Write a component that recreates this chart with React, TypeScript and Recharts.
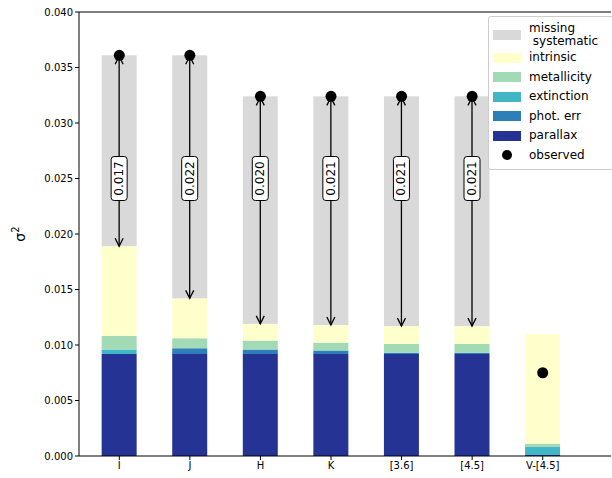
import React from 'react';
import { ComposedChart, Bar, Scatter, XAxis, YAxis, ReferenceLine } from 'recharts';

const categories = ['I', 'J', 'H', 'K', '[3.6]', '[4.5]', 'V-[4.5]'];
// cumulative tops
const parallaxTop = [0.0092, 0.0092, 0.0092, 0.0092, 0.0092, 0.0092, 0.0001];
const photErrTop = [0.0092, 0.0097, 0.0096, 0.0095, 0.0093, 0.0093, 0.0001];
const extinctionTop = [0.0096, 0.0097, 0.0096, 0.0095, 0.0093, 0.0093, 0.0008];
const metallicityTop = [0.0108, 0.0106, 0.0104, 0.0102, 0.0101, 0.0101, 0.0011];
const intrinsicTop = [0.0189, 0.0142, 0.0119, 0.0118, 0.0117, 0.0117, 0.011];
const observed = [0.0361, 0.0361, 0.0324, 0.0324, 0.0324, 0.0324, 0.0075];
const gapLabels = ['0.017', '0.022', '0.020', '0.021', '0.021', '0.021', ''];
const yTicks = [0, 0.005, 0.01, 0.015, 0.02, 0.025, 0.03, 0.035, 0.04];

const COLORS = {
  systematic: '#d9d9d9',
  intrinsic: '#ffffcc',
  metallicity: '#a1dab4',
  extinction: '#41b6c4',
  photErr: '#2c7fb8',
  parallax: '#253494',
};

const data = categories.map((name, i) => ({
  name,
  parallax: parallaxTop[i],
  photErr: photErrTop[i] - parallaxTop[i],
  extinction: extinctionTop[i] - photErrTop[i],
  metallicity: metallicityTop[i] - extinctionTop[i],
  intrinsic: intrinsicTop[i] - metallicityTop[i],
  systematic: Math.max(observed[i] - intrinsicTop[i], 0),
  observed: observed[i],
  label: gapLabels[i],
  bottom: intrinsicTop[i],
}));

const SystematicShape = (props: any) => {
  const { x, y, width, height, payload } = props;
  if (!height || height <= 0) return null;
  const cx = x + width / 2;
  const top = payload.observed;
  const bot = payload.bottom;
  const pxPer = height / (top - bot);
  const ly = y + (top - 0.025) * pxPer;
  const yEnd = y + height;
  return (
    <g>
      <rect x={x} y={y} width={width} height={height} fill={COLORS.systematic} />
      <line x1={cx} y1={y + 2} x2={cx} y2={yEnd} stroke="#000" strokeWidth={1.3} />
      <path d={`M${cx - 4},${y + 9} L${cx},${y + 1} L${cx + 4},${y + 9}`} fill="none" stroke="#000" strokeWidth={1.3} />
      <path d={`M${cx - 4},${yEnd - 8} L${cx},${yEnd} L${cx + 4},${yEnd - 8}`} fill="none" stroke="#000" strokeWidth={1.3} />
      <rect x={cx - 8} y={ly - 22} width={16} height={44} rx={3} fill="#fff" stroke="#000" strokeWidth={1} />
      <text x={cx} y={ly} transform={`rotate(-90 ${cx} ${ly})`} textAnchor="middle" dominantBaseline="central" fontSize={12} fill="#000">
        {payload.label}
      </text>
    </g>
  );
};

const legendItems = [
  { label: 'missing\n systematic', color: COLORS.systematic },
  { label: 'intrinsic', color: COLORS.intrinsic },
  { label: 'metallicity', color: COLORS.metallicity },
  { label: 'extinction', color: COLORS.extinction },
  { label: 'phot. err', color: COLORS.photErr },
  { label: 'parallax', color: COLORS.parallax },
];

export default function App() {
  return (
    <div style={{ position: 'absolute', left: 0, top: 0, width: 612, height: 478, background: '#fff', fontFamily: 'DejaVu Sans' }}>
      <ComposedChart width={612} height={478} data={data} margin={{ top: 12, right: 1, bottom: 0, left: 29 }} barCategoryGap="25%">
        <XAxis dataKey="name" height={22} padding={{ left: 5, right: 33 }} tick={{ fontSize: 10, fill: '#000' }} tickLine={{ stroke: '#000' }} axisLine={{ stroke: '#000' }} tickSize={4} interval={0} />
        <YAxis domain={[0, 0.04]} ticks={yTicks} tickFormatter={(v: number) => v.toFixed(3)} width={50} tick={{ fontSize: 10, fill: '#000' }} tickLine={{ stroke: '#000' }} axisLine={{ stroke: '#000' }} tickSize={4} />
        <ReferenceLine y={0.04} stroke="#000" strokeWidth={1} />
        <Bar dataKey="parallax" stackId="a" fill={COLORS.parallax} isAnimationActive={false} />
        <Bar dataKey="photErr" stackId="a" fill={COLORS.photErr} isAnimationActive={false} />
        <Bar dataKey="extinction" stackId="a" fill={COLORS.extinction} isAnimationActive={false} />
        <Bar dataKey="metallicity" stackId="a" fill={COLORS.metallicity} isAnimationActive={false} />
        <Bar dataKey="intrinsic" stackId="a" fill={COLORS.intrinsic} isAnimationActive={false} />
        <Bar dataKey="systematic" stackId="a" fill={COLORS.systematic} shape={SystematicShape} isAnimationActive={false} />
        <Scatter dataKey="observed" fill="#000" isAnimationActive={false} shape={(p: any) => <circle cx={p.cx} cy={p.cy} r={5.5} fill="#000" />} />
        <text x={20} y={234} transform="rotate(-90 20 234)" textAnchor="middle" dominantBaseline="central" fontSize={14} fill="#000">
          σ<tspan dy={-5} fontSize={10}>2</tspan>
        </text>
      </ComposedChart>
      <div style={{ position: 'absolute', left: 488, top: 16, width: 120, border: '1px solid #ccc', borderRadius: 3, background: '#fff', padding: '5px 0 4px 4px', fontSize: 12, lineHeight: '19.5px' }}>
        {legendItems.map(it => (
          <div key={it.label} style={{ display: 'flex', alignItems: 'center' }}>
            <span style={{ display: 'inline-block', width: 28, height: 10, background: it.color, marginRight: 8, flex: 'none' }} />
            <span style={{ whiteSpace: 'pre', lineHeight: it.label.includes('\n') ? '13px' : '19.5px' }}>{it.label}</span>
          </div>
        ))}
        <div style={{ display: 'flex', alignItems: 'center' }}>
          <span style={{ width: 28, marginRight: 8, display: 'flex', justifyContent: 'center' }}>
            <span style={{ width: 10, height: 10, borderRadius: 5, background: '#000' }} />
          </span>
          <span>observed</span>
        </div>
      </div>
    </div>
  );
}
